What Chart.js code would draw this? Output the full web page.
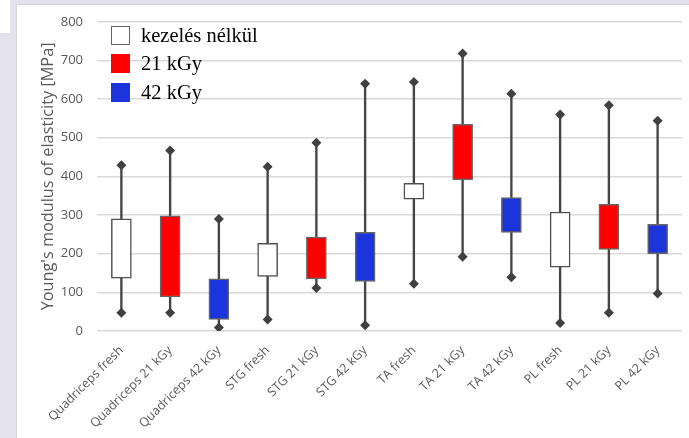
<!DOCTYPE html>
<html>
<head>
<meta charset="utf-8">
<script src="https://cdn.jsdelivr.net/npm/chart.js@4.4.1/dist/chart.umd.min.js"></script>
<style>
  html, body { margin: 0; padding: 0; }
  body { width: 689px; height: 438px; background: #e4e2ed; position: relative; overflow: hidden; }
  #corner { position: absolute; left: 0; top: 0; width: 10px; height: 33px; background: #ffffff; }
  #panel { position: absolute; left: 16px; top: 4px; width: 673px; height: 434px; background: #ffffff;
           border-left: 1px solid #d6d6d6; border-top: 1px solid #d6d6d6; box-sizing: border-box; }
  #wrap { position: absolute; left: 17px; top: 0px; width: 672px; height: 438px; }
  #legend { position: absolute; left: 111px; top: 21px; font-family: "Liberation Serif", "DejaVu Serif", serif;
            font-size: 20.5px; color: #000; }
  .item { display: flex; align-items: center; height: 28.5px; }
  .sw { width: 19px; height: 19px; margin-right: 11px; box-sizing: border-box; }
</style>
</head>
<body>
<div id="corner"></div>
<div id="panel"></div>
<div id="wrap"><canvas id="c" width="672" height="438"></canvas></div>
<div id="legend">
  <div class="item"><div class="sw" style="background:#fff;border:1.5px solid #666"></div><span>kezelés nélkül</span></div>
  <div class="item"><div class="sw" style="background:#ff0000"></div><span>21 kGy</span></div>
  <div class="item"><div class="sw" style="background:#1c34dc"></div><span>42 kGy</span></div>
</div>
<script>
const categories = ["Quadriceps fresh", "Quadriceps 21 kGy", "Quadriceps 42 kGy",
  "STG fresh", "STG 21 kGy", "STG 42 kGy",
  "TA fresh", "TA 21 kGy", "TA 42 kGy",
  "PL fresh", "PL 21 kGy", "PL 42 kGy"];
const q1Values  = [137, 88, 30, 141, 135, 128, 341, 391, 255, 165, 211, 200];
const q3Values  = [290, 298, 135, 227, 243, 255, 382, 535, 345, 308, 328, 276];
const minValues = [47, 47, 9, 30, 111, 15, 122, 192, 139, 21, 47, 97];
const maxValues = [429, 467, 290, 425, 487, 640, 644, 718, 614, 560, 584, 544];
const yTicks = [0, 100, 200, 300, 400, 500, 600, 700, 800];
const groupColors = ["#ffffff", "#ff0000", "#1c34dc"];
const groupBorders = ["#505050", "#666666", "#666666"];

const boxColors = categories.map((_, i) => groupColors[i % 3]);
const boxBorders = categories.map((_, i) => groupBorders[i % 3]);

new Chart(document.getElementById("c"), {
  data: {
    labels: categories,
    datasets: [
      {
        type: "bar",
        data: categories.map((_, i) => [minValues[i], maxValues[i]]),
        backgroundColor: "#454545",
        borderWidth: 0,
        barThickness: 1.7,
        grouped: false,
        order: 3
      },
      {
        type: "bar",
        data: categories.map((_, i) => [q1Values[i], q3Values[i]]),
        backgroundColor: boxColors,
        borderColor: boxBorders,
        borderWidth: 1.5,
        borderSkipped: false,
        barThickness: 20,
        grouped: false,
        order: 2
      },
      {
        type: "line",
        data: maxValues,
        showLine: false,
        pointStyle: "rectRot",
        pointRadius: 5,
        pointBackgroundColor: "#404040",
        pointBorderColor: "#404040",
        pointBorderWidth: 0,
        order: 1
      },
      {
        type: "line",
        data: minValues,
        showLine: false,
        pointStyle: "rectRot",
        pointRadius: 5,
        pointBackgroundColor: "#404040",
        pointBorderColor: "#404040",
        pointBorderWidth: 0,
        order: 1
      }
    ]
  },
  options: {
    responsive: false,
    animation: false,
    layout: { padding: { top: 9, right: 7, left: 0, bottom: 0 } },
    plugins: { legend: { display: false }, tooltip: { enabled: false } },
    scales: {
      x: {
        grid: { display: false, drawTicks: false },
        border: { display: false },
        ticks: {
          color: "#595959",
          font: { family: "Open Sans", size: 12.5 },
          minRotation: 45, maxRotation: 45, padding: 12
        },
        afterFit: (s) => { s.height = 107; }
      },
      y: {
        min: 0, max: 800,
        afterBuildTicks: (s) => { s.ticks = yTicks.map(v => ({ value: v })); },
        grid: { color: "#d9d9d9", lineWidth: 1.5, drawTicks: false },
        border: { display: false },
        ticks: {
          color: "#595959",
          font: { family: "Open Sans", size: 13 },
          padding: 14
        },
        title: {
          display: true,
          text: "Young's modulus of elasticity [MPa]",
          color: "#595959",
          font: { family: "Open Sans", size: 16.3 },
          padding: { top: 22, bottom: 0 }
        },
        afterFit: (s) => { s.width = 80; }
      }
    }
  }
});
</script>
</body>
</html>
